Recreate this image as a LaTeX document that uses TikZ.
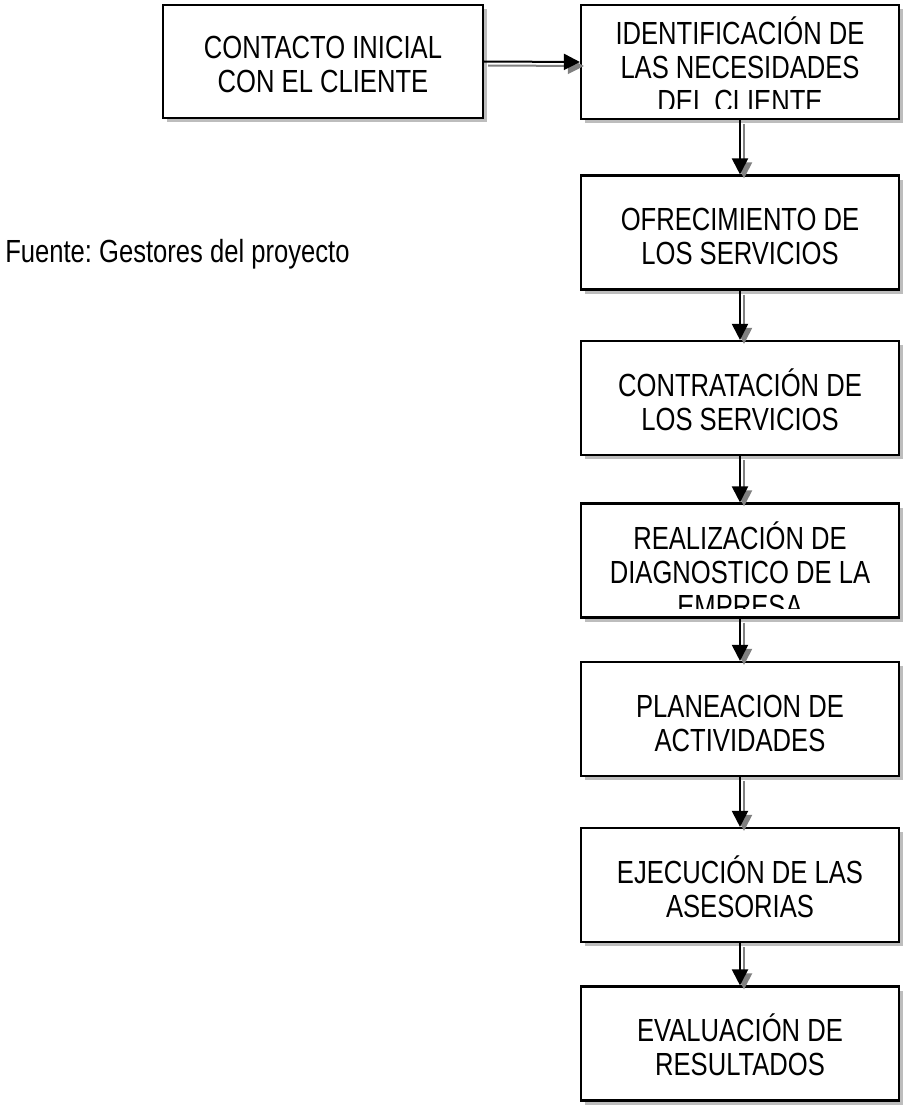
\documentclass[tikz,border=0pt]{standalone}
\usepackage{fontspec}
\setmainfont{Liberation Sans}[FakeStretch=0.80]
\usetikzlibrary{arrows.meta,shadows}
\definecolor{shgray}{HTML}{BDBDBD}
\definecolor{argray}{HTML}{808080}
\frenchspacing
\begin{document}
\begin{tikzpicture}[x=0.75pt,y=-0.75pt,
  box/.style={draw=black, line width=1.6pt, fill=white, minimum width=238.5pt, minimum height=85.5pt, inner sep=0pt,
    general shadow={shadow xshift=3pt, shadow yshift=-3pt, fill=shgray}},
  txt/.style={font=\fontsize{24}{25.5}\selectfont, align=center, inner sep=0pt, anchor=north},
  arr/.style={line width=1.5pt, draw=black, -{Triangle[length=12pt,width=12pt]}},
  arrsh/.style={arr, draw=argray, transform canvas={shift={(3pt,-3pt)}}},
]
\useasboundingbox (0,0) rectangle (903,1106);
% boxes
\node[box, minimum width=240pt, minimum height=84.75pt] (b1) at (323,61.5) {};
\node[box] (b2) at (740,62) {};
\node[box] (b3) at (740,232.5) {};
\node[box] (b4) at (740,398) {};
\node[box] (b5) at (740,560.5) {};
\node[box] (b6) at (740,719) {};
\node[box] (b7) at (740,885) {};
\node[box] (b8) at (740,1043.5) {};
% texts
\node[txt] (t1) at ([yshift=-18pt]b1.north) {\rule{0pt}{22.5pt}CONTACTO INICIAL\\CON EL CLIENTE};
\begin{scope}
  \clip (b2.north west) rectangle ([yshift=9pt]b2.south east);
  \node[txt] (t2) at ([yshift=-7.5pt]b2.north) {\rule{0pt}{22.5pt}IDENTIFICACIÓN DE\\LAS NECESIDADES\\DEL CLIENTE};
\end{scope}
\node[txt] (t3) at ([yshift=-19.5pt]b3.north) {\rule{0pt}{22.5pt}OFRECIMIENTO DE\\LOS SERVICIOS};
\node[txt] (t4) at ([yshift=-19.5pt]b4.north) {\rule{0pt}{22.5pt}CONTRATACIÓN DE\\LOS SERVICIOS};
\begin{scope}
  \clip (b5.north west) rectangle ([yshift=7.5pt]b5.south east);
  \node[txt] (t5) at ([yshift=-12.75pt]b5.north) {\rule{0pt}{22.5pt}REALIZACIÓN DE\\DIAGNOSTICO DE LA\\EMPRESA};
\end{scope}
\node[txt] (t6) at ([yshift=-19.5pt]b6.north) {\rule{0pt}{22.5pt}PLANEACION DE\\ACTIVIDADES};
\node[txt] (t7) at ([yshift=-19.5pt]b7.north) {\rule{0pt}{22.5pt}EJECUCIÓN DE LAS\\ASESORIAS};
\node[txt] (t8) at ([yshift=-19.5pt]b8.north) {\rule{0pt}{22.5pt}EVALUACIÓN DE\\RESULTADOS};
\node[font=\fontsize{24}{25.5}\selectfont, anchor=base west, inner sep=0pt] (src) at (5,262) {Fuente: Gestores del proyecto};
% arrows (shadow first)
\draw[arrsh] (b1.east) -- (b2.west);
\draw[arr] (b1.east) -- (b2.west);
\foreach \a/\b in {b2/b3,b3/b4,b4/b5,b5/b6,b6/b7,b7/b8}{
  \draw[arrsh] (\a.south) -- (\b.north);
  \draw[arr] (\a.south) -- (\b.north);
}
\end{tikzpicture}
\end{document}
